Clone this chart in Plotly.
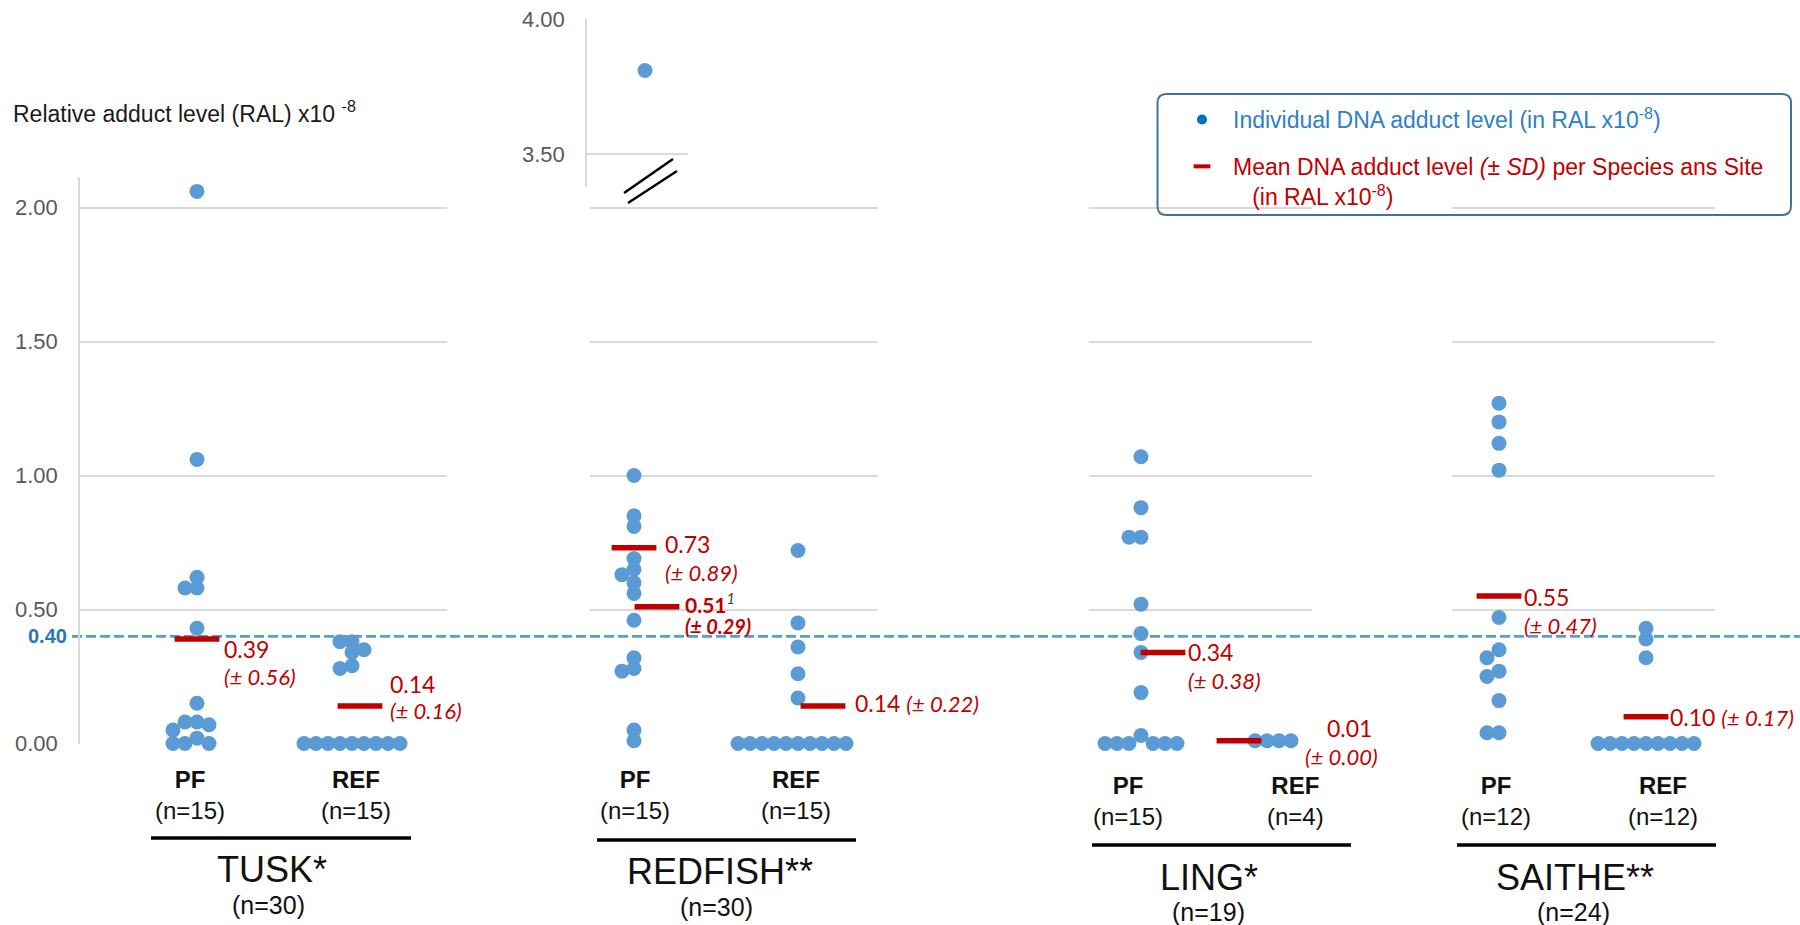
import plotly.graph_objects as go

# ---------------- data ----------------
SPECIES = ["TUSK*", "REDFISH**", "LING*", "SAITHE**"]
SPECIES_N = ["(n=30)", "(n=30)", "(n=19)", "(n=24)"]
SITES = ["PF", "REF"]
SITE_N = [["(n=15)", "(n=15)"], ["(n=15)", "(n=15)"], ["(n=15)", "(n=4)"], ["(n=12)", "(n=12)"]]

TUSK_PF = [2.06, 1.06, 0.62, 0.58, 0.58, 0.43, 0.15, 0.08, 0.08, 0.07, 0.05, 0.02, 0.00, 0.00, 0.00]
TUSK_REF = [0.38, 0.38, 0.35, 0.34, 0.29, 0.28, 0.00, 0.00, 0.00, 0.00, 0.00, 0.00, 0.00, 0.00, 0.00]
REDFISH_PF = [3.81, 1.00, 0.85, 0.81, 0.69, 0.65, 0.63, 0.60, 0.56, 0.46, 0.32, 0.28, 0.27, 0.05, 0.01]
REDFISH_REF = [0.72, 0.45, 0.36, 0.26, 0.17, 0.00, 0.00, 0.00, 0.00, 0.00, 0.00, 0.00, 0.00, 0.00, 0.00]
LING_PF = [1.07, 0.88, 0.77, 0.77, 0.52, 0.41, 0.34, 0.19, 0.03, 0.00, 0.00, 0.00, 0.00, 0.00, 0.00]
LING_REF = [0.01, 0.01, 0.01, 0.01]
SAITHE_PF = [1.27, 1.20, 1.12, 1.02, 0.47, 0.35, 0.32, 0.27, 0.25, 0.16, 0.04, 0.04]
SAITHE_REF = [0.43, 0.39, 0.32, 0.00, 0.00, 0.00, 0.00, 0.00, 0.00, 0.00, 0.00, 0.00]

VALUES = [[TUSK_PF, TUSK_REF], [REDFISH_PF, REDFISH_REF], [LING_PF, LING_REF], [SAITHE_PF, SAITHE_REF]]
MEANS = [[0.39, 0.14], [0.73, 0.14], [0.34, 0.01], [0.55, 0.10]]
SDS = [[0.56, 0.16], [0.89, 0.22], [0.38, 0.00], [0.47, 0.17]]
REDFISH_PF_MEAN_NO_OUTLIER = 0.51
REDFISH_PF_SD_NO_OUTLIER = 0.29
THRESHOLD = 0.40
Y_TICKS = [0.0, 0.5, 1.0, 1.5, 2.0]
INSET_TICKS = [3.5, 4.0]

# ---------------- layout / style constants ----------------
W, H = 1800, 925
Y0_PX, PX_PER_UNIT, Y_TOP_PX = 743.5, 268.0, 177.0
YMAX = (Y0_PX - Y_TOP_PX) / PX_PER_UNIT
PANEL_PX = [(80, 447), (590, 878), (1089, 1312), (1452, 1715)]
CAT_PX = [(197, 352), (634, 798), (1141, 1279), (1499, 1646)]
SITE_LABEL_PX = [(190, 356), (635, 796), (1128, 1295), (1496, 1663)]
SITE_LABEL_Y = [795, 795, 801, 801]
SPECIES_LABEL_X = [272, 720, 1209, 1575]
SPECIES_LABEL_Y = [869, 871, 877, 877]
SPECIES_N_X = [268, 716, 1208, 1573]
SPECIES_N_Y = [905, 907, 912, 912]
GROUP_LINE = [(151, 411, 838), (597, 856, 840), (1092, 1351, 845), (1457, 1716, 845)]
BAR_SHIFT_PX = [[0, 8], [0, 25], [22, -40], [0, 0]]
EXTRA_BAR_SHIFT_PX = 23
LABEL_LAYOUT = [
    [dict(dx=25, dy1=10, dy2=38), dict(dx=28, dy1=-22, dy2=5)],
    [dict(dx=29, dy1=-4, dy2=25), dict(dx=30, dy1=-3, inline=True)],
    [dict(dx=23, dy1=0, dy2=28), dict(dx=86, dy1=-13, dx2=64, dy2=16)],
    [dict(dx=23, dy1=1, dy2=29), dict(dx=22, dy1=0, inline=True)],
]
EXTRA_LABEL = dict(dx=26, dy1=-4, dy2=19)
INSET_X_PX = (587, 688)
INSET_CENTER_PX = 645
INSET_Y_PX = (19.3, 187.0)
INSET_RANGE = [3.3775, 4.0]

DOT = "#5B9BD5"
RED = "#C00000"
GRID = "#D9D9D9"
FONT = "Liberation Sans, Arial, sans-serif"
LBL_FONT = "Lato, Liberation Sans, sans-serif"
DOT_SIZE = 15
STEP_PX = 12
THRESH_PX = 9


def px_x(px):
    return px / W


def px_y(px):
    return 1 - px / H


def swarm_offsets(values):
    """Simple beeswarm: offset points horizontally (in px) when they collide."""
    order = sorted(range(len(values)), key=lambda i: -values[i])
    cand = [0]
    for j in range(1, 40):
        cand += [-j, j]
    placed = {}
    out = [0.0] * len(values)
    for i in order:
        y = values[i] * PX_PER_UNIT
        for k in cand:
            if all(abs(y - yy) >= THRESH_PX for yy in placed.get(k, [])):
                break
        placed.setdefault(k, []).append(y)
        out[i] = k * STEP_PX
    return out


fig = go.Figure()
layout = dict(
    width=W, height=H, margin=dict(l=0, r=0, t=0, b=0, autoexpand=False),
    paper_bgcolor="white", plot_bgcolor="white",
    font=dict(family=FONT, color="#262626"),
    showlegend=True,
)
annotations = []
shapes = []

inset_pts = []
for g in range(4):
    sfx = "" if g == 0 else str(g + 1)
    L, R = PANEL_PX[g]
    P, Q = CAT_PX[g]
    u = Q - P
    layout["xaxis" + sfx] = dict(domain=[px_x(L), px_x(R)], range=[(L - P) / u, (R - P) / u],
                                 visible=False, anchor="y" + sfx, fixedrange=True, automargin=False)
    layout["yaxis" + sfx] = dict(
        domain=[px_y(Y0_PX), px_y(Y_TOP_PX)], range=[0, YMAX], anchor="x" + sfx,
        tickvals=Y_TICKS, tickformat=".2f", showgrid=True, gridcolor=GRID, gridwidth=1.5,
        zeroline=False, showticklabels=(g == 0), showline=(g == 0), linecolor=GRID, linewidth=1.5,
        ticks="", ticklabelstandoff=16, tickfont=dict(size=22, color="#595959", family=FONT),
        fixedrange=True, automargin=False,
    )
    for s in range(2):
        vals = VALUES[g][s]
        main_vals = [v for v in vals if v <= YMAX]
        inset_pts += [(g, s, v) for v in vals if v > YMAX]
        offs = swarm_offsets(main_vals)
        fig.add_trace(go.Scatter(
            x=[s + o / u for o in offs], y=main_vals, mode="markers",
            marker=dict(size=DOT_SIZE, color=DOT), cliponaxis=False, showlegend=False,
            name=f"{SPECIES[g]} {SITES[s]}", xaxis="x" + sfx, yaxis="y" + sfx,
            hovertemplate="%{y:.2f}<extra></extra>"))

    # mean bars
    bx = [s + BAR_SHIFT_PX[g][s] / u for s in range(2)]
    by = list(MEANS[g])
    if g == 1:
        bx.append(0 + EXTRA_BAR_SHIFT_PX / u)
        by.append(REDFISH_PF_MEAN_NO_OUTLIER)
    fig.add_trace(go.Scatter(
        x=bx, y=by, mode="markers", cliponaxis=False, showlegend=False,
        marker=dict(symbol="line-ew", size=32, line=dict(width=5.5, color=RED)),
        xaxis="x" + sfx, yaxis="y" + sfx, hovertemplate="mean %{y:.2f}<extra></extra>"))

    # mean / SD labels
    for s in range(2):
        lay = LABEL_LAYOUT[g][s]
        m, sd = MEANS[g][s], SDS[g][s]
        xa = s + BAR_SHIFT_PX[g][s] / u
        if lay.get("inline"):
            annotations.append(dict(
                xref="x" + sfx, yref="y" + sfx, x=xa, y=m, xanchor="left", yanchor="middle",
                xshift=lay["dx"], yshift=-lay["dy1"], showarrow=False,
                text=f"{m:.2f} <span style='font-size:22px'><i>(± {sd:.2f})</i></span>",
                font=dict(size=23, color=RED, family=LBL_FONT)))
        else:
            annotations.append(dict(
                xref="x" + sfx, yref="y" + sfx, x=xa, y=m, xanchor="left", yanchor="middle",
                xshift=lay["dx"], yshift=-lay["dy1"], showarrow=False, text=f"{m:.2f}",
                font=dict(size=23, color=RED, family=LBL_FONT)))
            annotations.append(dict(
                xref="x" + sfx, yref="y" + sfx, x=xa, y=m, xanchor="left", yanchor="middle",
                xshift=lay.get("dx2", lay["dx"]), yshift=-lay["dy2"], showarrow=False,
                text=f"<i>(± {sd:.2f})</i>", font=dict(size=22, color=RED, family=LBL_FONT)))
    if g == 1:
        xa = EXTRA_BAR_SHIFT_PX / u
        m = REDFISH_PF_MEAN_NO_OUTLIER
        annotations.append(dict(
            xref="x2", yref="y2", x=xa, y=m, xanchor="left", yanchor="middle",
            xshift=EXTRA_LABEL["dx"], yshift=-EXTRA_LABEL["dy1"], showarrow=False,
            text=f"<b>{m:.2f}</b><sup><i><span style='color:#404040'>1</span></i></sup>",
            font=dict(size=21, color=RED, family=LBL_FONT)))
        annotations.append(dict(
            xref="x2", yref="y2", x=xa, y=m, xanchor="left", yanchor="middle",
            xshift=EXTRA_LABEL["dx"], yshift=-EXTRA_LABEL["dy2"], showarrow=False,
            text=f"<b><i>(± {REDFISH_PF_SD_NO_OUTLIER:.2f})</i></b>",
            font=dict(size=20, color=RED, family=LBL_FONT)))

    # site labels, group line, species label
    for s in range(2):
        annotations.append(dict(
            xref="paper", yref="paper", x=px_x(SITE_LABEL_PX[g][s]), y=px_y(SITE_LABEL_Y[g]),
            xanchor="center", yanchor="middle", showarrow=False,
            text=f"<b>{SITES[s]}</b><br>{SITE_N[g][s]}", font=dict(size=24, color="#111111")))
    x0, x1, yl = GROUP_LINE[g]
    shapes.append(dict(type="line", xref="paper", yref="paper", x0=px_x(x0), x1=px_x(x1),
                       y0=px_y(yl), y1=px_y(yl), line=dict(color="black", width=3.5)))
    annotations.append(dict(
        xref="paper", yref="paper", x=px_x(SPECIES_LABEL_X[g]), y=px_y(SPECIES_LABEL_Y[g]),
        xanchor="center", yanchor="middle", showarrow=False, text=SPECIES[g],
        font=dict(size=36, color="#111111")))
    annotations.append(dict(
        xref="paper", yref="paper", x=px_x(SPECIES_N_X[g]), y=px_y(SPECIES_N_Y[g]),
        xanchor="center", yanchor="middle", showarrow=False, text=SPECIES_N[g],
        font=dict(size=25, color="#111111")))

# ---------------- inset for the out-of-range value ----------------
u_in = CAT_PX[1][1] - CAT_PX[1][0]
ia, ib = INSET_X_PX
layout["xaxis5"] = dict(domain=[px_x(ia), px_x(ib)],
                        range=[(ia - INSET_CENTER_PX) / u_in, (ib - INSET_CENTER_PX) / u_in],
                        visible=False, anchor="y5", fixedrange=True, automargin=False)
layout["yaxis5"] = dict(domain=[px_y(INSET_Y_PX[1]), px_y(INSET_Y_PX[0])], range=INSET_RANGE,
                        anchor="x5", tickvals=INSET_TICKS, tickformat=".2f", showgrid=True,
                        gridcolor=GRID, gridwidth=1.5, zeroline=False, showline=True,
                        linecolor=GRID, linewidth=1.5, ticks="", ticklabelstandoff=16,
                        tickfont=dict(size=22, color="#595959", family=FONT), fixedrange=True,
                        automargin=False)
fig.add_trace(go.Scatter(
    x=[s for (g, s, v) in inset_pts], y=[v for (g, s, v) in inset_pts], mode="markers",
    marker=dict(size=DOT_SIZE, color=DOT), cliponaxis=False, showlegend=False,
    xaxis="x5", yaxis="y5", hovertemplate="%{y:.2f}<extra></extra>"))
# axis break marks
for (xa, ya, xb, yb) in [(624, 193, 673, 159), (628, 203, 677, 171)]:
    shapes.append(dict(type="line", xref="paper", yref="paper", x0=px_x(xa), y0=px_y(ya),
                       x1=px_x(xb), y1=px_y(yb), line=dict(color="black", width=2.5)))

# ---------------- threshold line ----------------
shapes.append(dict(type="line", xref="paper", yref="y", x0=px_x(72), x1=1.0, y0=THRESHOLD,
                   y1=THRESHOLD, layer="below", line=dict(color=DOT, width=2.7, dash="10px,4px")))
annotations.append(dict(xref="paper", yref="y", x=px_x(69), y=THRESHOLD, xanchor="right",
                        yanchor="middle", showarrow=False, text=f"<b>{THRESHOLD:.2f}</b>",
                        font=dict(size=20, color="#2E75B6")))

# y title
annotations.append(dict(xref="paper", yref="paper", x=px_x(11), y=px_y(112), xanchor="left",
                        yanchor="middle", showarrow=False,
                        text="Relative adduct level (RAL) x10 <sup>-8</sup>",
                        font=dict(size=23, color="#1a1a1a")))

# ---------------- legend ----------------
fig.add_trace(go.Scatter(x=[None], y=[None], mode="markers", legendgroup="a",
                         marker=dict(size=10, color="#0070C0"),
                         name="<span style='color:#2E80C8'>Individual DNA adduct level (in RAL x10<sup>-8</sup>)</span>"))
fig.add_trace(go.Scatter(x=[None], y=[None], mode="markers", legendgroup="b",
                         marker=dict(symbol="line-ew", size=12, line=dict(width=4, color=RED)),
                         name="Mean DNA adduct level <i>(± SD)</i> per Species ans Site<br>"
                              "\u00a0\u00a0\u00a0(in RAL x10<sup>-8</sup>)"))
layout["legend"] = dict(x=px_x(1171), y=px_y(98), xanchor="left", yanchor="top",
                        bgcolor="rgba(0,0,0,0)", borderwidth=0, tracegroupgap=14,
                        itemwidth=52, valign="top", font=dict(size=23, color=RED, family=FONT),
                        itemclick=False, itemdoubleclick=False)

# rounded legend box
bx0, bx1, by0, by1, r = 1157.5, 1791, 94, 215, 9
path = (f"M {px_x(bx0 + r)} {px_y(by0)} L {px_x(bx1 - r)} {px_y(by0)} "
        f"Q {px_x(bx1)} {px_y(by0)} {px_x(bx1)} {px_y(by0 + r)} "
        f"L {px_x(bx1)} {px_y(by1 - r)} Q {px_x(bx1)} {px_y(by1)} {px_x(bx1 - r)} {px_y(by1)} "
        f"L {px_x(bx0 + r)} {px_y(by1)} Q {px_x(bx0)} {px_y(by1)} {px_x(bx0)} {px_y(by1 - r)} "
        f"L {px_x(bx0)} {px_y(by0 + r)} Q {px_x(bx0)} {px_y(by0)} {px_x(bx0 + r)} {px_y(by0)} Z")
shapes.append(dict(type="path", xref="paper", yref="paper", path=path,
                   line=dict(color="#41719C", width=2), fillcolor="rgba(0,0,0,0)"))

layout["annotations"] = annotations
layout["shapes"] = shapes
fig.update_layout(**layout)
fig.write_html("out.html", config={"displayModeBar": False},
               post_script="document.body.style.margin='0px';document.body.style.overflow='hidden';")
